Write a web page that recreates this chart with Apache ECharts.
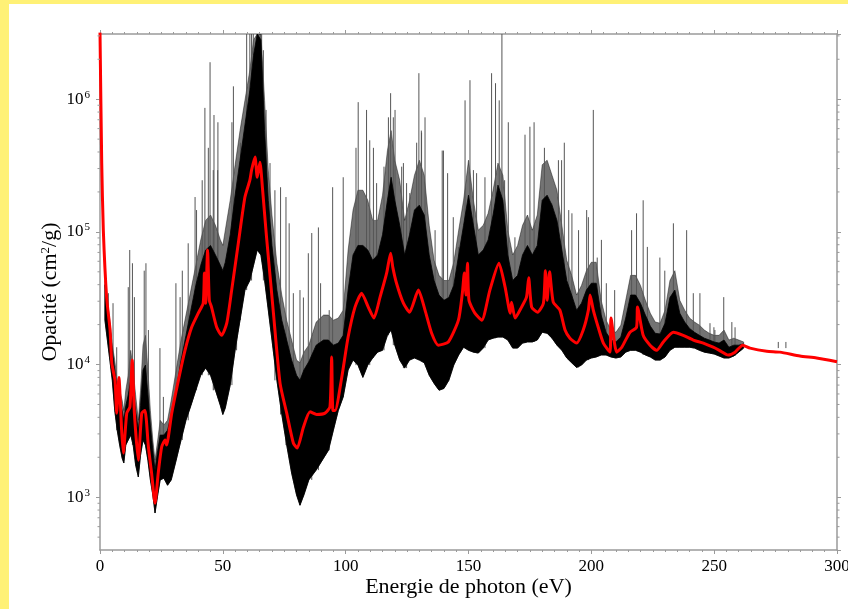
<!DOCTYPE html>
<html><head><meta charset="utf-8">
<script src="https://cdn.jsdelivr.net/npm/echarts@6/dist/echarts.min.js"></script>
<style>
html,body{margin:0;padding:0;width:848px;height:609px;background:#FFF176;overflow:hidden;}
#frame{position:absolute;left:9px;top:4px;right:0;bottom:0;background:#fff;}
#chart{position:absolute;left:0;top:0;width:848px;height:609px;}
</style></head>
<body><div id="frame"></div><div id="chart"></div>
<script>
// ---- data ----
// smoothed (red) opacity curve
const redEnergy = [0,0.7,1.35,2.7,4.1,4.8,6.1,6.8,7.7,8.8,9.5,10.9,12.2,13.1,14,15.6,17,18.3,19.7,21,22.4,23.7,25.1,26.5,27.1,29.2,31.9,34.6,37.3,40,42,42.5,43,43.8,44.5,45.4,47.5,49.5,51.6,53.6,56.3,59,61,61.7,63.1,64,65.1,66.2,67.8,70.6,73.3,76,78.7,80.3,82.8,85.5,88.2,91.6,93.6,94.3,94.8,95.7,98.4,101,103.8,106.5,109.2,111.5,114,116.7,118.3,119.2,120.7,123.5,126,129.6,132.3,135,137.7,141.8,145.9,147.5,148.3,149,149.6,150.2,152.6,155.4,158.7,162.4,164.9,167,167.5,169,171.6,173.6,174.5,175.7,178.1,180.5,181.3,182,183,184.5,187.2,189.3,191.3,194,196.7,198.8,199.5,200.8,202.8,204.9,207.6,208,210.3,212.4,215.7,218.4,218.8,221.1,223.9,226.6,229.3,233.4,237.4,241.5,245.6,249.6,252.1,255.7,258.5,261.6,264.6,271.4,276.8,284.9,291.7,300];
const redOpacity = [3.2e6,3.3e5,1.03e5,3.2e4,1.82e4,1.03e4,7.6e3,4.3e3,8.0e3,3.2e3,2.15e3,4.3e3,4.8e3,1.08e4,4.3e3,1.9e3,4.3e3,4.5e3,2.39e3,1.52e3,900,1.52e3,2.39e3,2.7e3,2.47e3,4.3e3,7.6e3,1.28e4,1.91e4,2.44e4,2.9e4,4.9e4,2.9e4,7.3e4,3.05e4,2.71e4,1.91e4,1.66e4,2.05e4,3.64e4,8.2e4,1.83e5,2.45e5,2.92e5,3.66e5,2.58e5,3.35e5,2.06e5,9.1e4,2.44e4,7.2e3,4.3e3,2.56e3,2.35e3,3.37e3,4.4e3,4.2e3,4.3e3,4.8e3,1.14e4,4.5e3,4.5e3,8.0e3,1.61e4,2.71e4,3.45e4,2.71e4,2.24e4,3.22e4,4.9e4,6.9e4,5.4e4,4.1e4,2.9e4,2.48e4,3.64e4,2.57e4,1.72e4,1.40e4,1.48e4,2.16e4,3.45e4,4.9e4,3.34e4,5.8e4,3.05e4,2.44e4,2.16e4,3.64e4,5.8e4,3.83e4,2.44e4,2.95e4,2.24e4,2.71e4,3.22e4,4.5e4,2.71e4,2.48e4,2.9e4,5.1e4,3.05e4,5.0e4,2.95e4,2.57e4,1.82e4,1.58e4,1.45e4,1.82e4,2.57e4,3.34e4,2.57e4,1.91e4,1.45e4,1.24e4,2.24e4,1.24e4,1.35e4,1.75e4,1.91e4,2.71e4,1.66e4,1.40e4,1.28e4,1.48e4,1.75e4,1.66e4,1.53e4,1.45e4,1.35e4,1.28e4,1.18e4,1.24e4,1.40e4,1.33e4,1.26e4,1.24e4,1.16e4,1.12e4,1.05e4];

// dense (black) detailed spectrum: lower edge, top of the solid core, top of the line fringe
const bandEnergy = [2,3,4,5,6,7,8,9,9.7,10.5,11.5,12.5,13.5,14.5,15.6,16.5,17.5,18.5,19.5,20.5,21.5,22.4,23.5,24.5,26,27.5,29,31,33,35,37,39,41,43,45,47,49,50,51,53,55,57,59,61,62.5,64,65.5,67,68.5,70,72,74,76,78,80,81.4,83,85,88,91,93,95,97,99,101,103,105,107,109,111,113,115,117,118.5,120,122,124,126,128,130,132,134,136,138,140,142,144,146,148,150,152,154,156,158,160,162,164,166,168,170,172,174,176,178,180,182,184,186,188,190,192,194,196,198,200,202,204,206,208,210,212,214,216,218,220,222,224,226,228,230,232,234,236,238,240,242,244,246,248,250,252,254,256,258,260,262];
const bandLow = [2.16e4,1.53e4,1.08e4,7.6e3,4.5e3,3.2e3,2.47e3,1.97e3,1.81e3,2.47e3,2.7e3,2.94e3,2.47e3,1.75e3,1.42e3,2.07e3,2.7e3,2.47e3,1.9e3,1.35e3,1.04e3,760,1.04e3,1.35e3,1.39e3,1.23e3,1.35e3,1.9e3,2.7e3,3.8e3,4.9e3,6.4e3,8.3e3,9.4e3,8.3e3,6.4e3,4.9e3,4.2e3,4.7e3,7.0e3,1.28e4,2.16e4,3.64e4,4.3e4,5.6e4,7.3e4,6.7e4,4.3e4,2.57e4,1.53e4,7.6e3,4.2e3,2.47e3,1.52e3,1.04e3,870,1.04e3,1.35e3,1.6e3,1.97e3,2.26e3,3.2e3,4.5e3,5.7e3,9.1e3,1.08e4,9.9e3,8.0e3,9.9e3,1.12e4,1.24e4,1.28e4,1.66e4,1.82e4,1.4e4,1.08e4,9.4e3,1.08e4,1.12e4,1.08e4,1.03e4,8.3e3,7.2e3,6.4e3,6.6e3,7.6e3,9.9e3,1.18e4,1.35e4,1.28e4,1.24e4,1.22e4,1.33e4,1.53e4,1.58e4,1.61e4,1.61e4,1.53e4,1.33e4,1.33e4,1.45e4,1.48e4,1.48e4,1.53e4,1.75e4,1.72e4,1.58e4,1.4e4,1.28e4,1.12e4,1.03e4,9.5e3,9.9e3,1.08e4,1.12e4,1.14e4,1.18e4,1.18e4,1.14e4,1.12e4,1.14e4,1.24e4,1.28e4,1.28e4,1.24e4,1.18e4,1.14e4,1.08e4,1.08e4,1.14e4,1.28e4,1.35e4,1.35e4,1.35e4,1.35e4,1.33e4,1.28e4,1.24e4,1.22e4,1.2e4,1.16e4,1.12e4,1.12e4,1.16e4,1.24e4,1.33e4];
const bandCore = [4.0e4,2.8e4,2.0e4,1.28e4,9.1e3,6.4e3,5.4e3,4.5e3,3.8e3,4.9e3,5.9e3,7.6e3,6.4e3,4.5e3,3.2e3,4.9e3,9.1e3,9.9e3,5.9e3,3.5e3,2.26e3,1.6e3,2.26e3,2.94e3,2.94e3,3.2e3,4.2e3,6.4e3,1.08e4,1.66e4,2.57e4,3.95e4,5.6e4,7.3e4,7.9e4,6.7e4,5.6e4,5.1e4,5.9e4,9.5e4,1.89e5,3.47e5,6.4e5,1.17e6,2.14e6,3.1e6,2.8e6,5.8e5,1.73e5,7.9e4,3.64e4,2.16e4,1.53e4,1.08e4,8.3e3,7.6e3,9.1e3,1.05e4,1.4e4,1.53e4,1.53e4,1.4e4,1.45e4,1.66e4,3.64e4,6.7e4,7.9e4,7.9e4,7.3e4,6.1e4,6.7e4,9.5e4,1.73e5,2.58e5,1.73e5,1.12e5,6.7e4,9.5e4,1.46e5,1.59e5,1.34e5,6.7e4,4.3e4,3.34e4,3.05e4,3.2e4,3.95e4,6.7e4,1.12e5,1.89e5,1.12e5,6.7e4,7.3e4,8.7e4,1.34e5,2.25e5,1.73e5,6.7e4,4.3e4,4.7e4,6.7e4,7.9e4,6.7e4,7.9e4,1.73e5,1.89e5,1.59e5,1.22e5,7.3e4,4.3e4,3.34e4,2.57e4,2.9e4,3.64e4,4.1e4,4.1e4,2.36e4,1.75e4,1.53e4,1.48e4,1.61e4,2.24e4,3.34e4,3.34e4,2.9e4,2.36e4,1.95e4,1.72e4,1.7e4,2.05e4,3.2e4,3.64e4,2.44e4,2.09e4,1.87e4,1.75e4,1.66e4,1.58e4,1.53e4,1.48e4,1.45e4,1.53e4,1.35e4,1.4e4,1.4e4,1.43e4];
const bandHigh = [4.3e4,3.05e4,2.16e4,1.4e4,1.08e4,7.6e3,6.4e3,5.4e3,4.5e3,6.4e3,8.3e3,1.28e4,9.1e3,5.9e3,3.8e3,6.4e3,1.4e4,1.66e4,9.1e3,4.5e3,2.7e3,1.9e3,2.7e3,3.8e3,3.5e3,3.8e3,5.4e3,9.1e3,1.53e4,2.36e4,3.64e4,5.6e4,8.7e4,1.22e5,1.34e5,1.12e5,8.7e4,7.9e4,1.03e5,1.73e5,3.2e5,5.8e5,9.8e5,1.66e6,2.8e6,3.1e6,3.1e6,9.8e5,2.92e5,1.34e5,5.8e4,3.34e4,2.16e4,1.53e4,1.08e4,1.03e4,1.24e4,1.4e4,2.09e4,2.36e4,2.36e4,2.16e4,2.24e4,2.57e4,7.3e4,1.46e5,2.06e5,2.06e5,1.73e5,1.22e5,1.22e5,1.89e5,4.1e5,5.8e5,3.47e5,2.45e5,1.22e5,1.73e5,2.67e5,3.47e5,2.67e5,1.12e5,6.1e4,4.7e4,4.3e4,4.3e4,5.9e4,1.03e5,1.73e5,3.47e5,1.73e5,1.03e5,1.12e5,1.38e5,2.06e5,3.3e5,2.67e5,1.03e5,6.7e4,7.9e4,1.12e5,1.34e5,1.03e5,1.34e5,3.2e5,3.47e5,2.67e5,2.06e5,1.12e5,6.1e4,4.7e4,3.34e4,3.95e4,5.1e4,5.9e4,5.9e4,3.05e4,2.16e4,1.82e4,1.75e4,1.98e4,3.05e4,4.7e4,4.7e4,3.95e4,3.05e4,2.44e4,2.09e4,2.05e4,2.57e4,4.3e4,5.1e4,3.05e4,2.57e4,2.24e4,2.09e4,1.98e4,1.82e4,1.72e4,1.66e4,1.66e4,1.82e4,1.53e4,1.58e4,1.53e4,1.48e4];

// isolated tall lines of the detailed spectrum: [energy, peak opacity]
const spikeLines = [[3.4,3.45e4],[5.3,2.9e4],[6.8,1.35e4],[11.5,3.83e4],[12.1,7.3e4],[13.2,5.8e4],[14,3.22e4],[18,5.1e4],[18.7,5.8e4],[19.7,1.82e4],[24.4,1.33e4],[25.8,5.7e3],[30.9,4.1e4],[32.6,3.22e4],[33.5,5.1e4],[35.9,8.2e4],[38.7,1.83e5],[39.3,1.46e5],[41.6,2.45e5],[42.7,8.6e5],[44.1,4.3e5],[44.8,1.9e6],[46.1,2.92e5],[46.4,7.6e5],[47.9,2.92e5],[48,6.7e5],[53.7,6.7e5],[54.3,1.25e6],[55.6,2.06e5],[57.2,4.7e5],[59.7,3.1e6],[61,3.1e6],[61.7,3.1e6],[62.4,3.1e6],[64.4,3.1e6],[65.8,3.1e6],[66.5,2.34e6],[67.6,8.3e5],[69.2,3.3e5],[71.2,2.06e5],[73.5,2.17e5],[75.7,1.83e5],[77,1.16e5],[78.7,3.45e4],[81.4,3.64e4],[82.8,3.2e4],[84.8,6.9e4],[86.2,9.8e4],[88.9,1.08e5],[89.8,4.1e4],[93.3,2.57e4],[94.7,2.17e5],[99,2.58e5],[104.2,4.3e5],[105.1,9.5e5],[108.5,8.3e5],[109.8,4.9e5],[111.3,4.3e5],[112.6,2.33e5],[115.6,3.1e5],[117.4,7.3e5],[118.3,1.11e6],[119.4,7.3e5],[120.1,8.3e5],[122.8,3.1e5],[123.5,3.3e5],[124.8,2.33e5],[126.1,1.96e5],[128.9,4.7e5],[129.8,1.57e6],[130.8,5.8e5],[130.9,5.6e5],[132.3,7.3e5],[136.4,1.03e5],[139.3,4.1e5],[139.8,4.1e5],[141.5,2.77e5],[143.8,1.29e5],[145.9,7.7e4],[148.6,9.8e5],[150.6,1.39e6],[152,2.92e5],[153.3,2.77e5],[156.7,2.58e5],[159.4,1.57e6],[161,1.32e6],[162.5,9.8e5],[163.6,3.1e6],[164.7,2.45e5],[166.2,6.7e5],[168.9,9.1e4],[173,5.4e5],[175,6.2e5],[176.7,6.7e5],[180.9,4.3e5],[183.9,1.64e5],[186.6,3.47e5],[187.9,3.47e5],[189,4.7e5],[190.8,1.46e5],[192.1,1.38e5],[194.8,1.03e5],[198.1,1.46e5],[198.8,1.29e5],[200.8,8.3e5],[202.4,6.4e4],[204.1,8.7e4],[206.1,4.1e4],[209.5,3.64e4],[216.4,1.03e5],[218.4,1.38e5],[221.1,1.73e5],[222.8,7.7e4],[227.9,6.4e4],[229.9,5.1e4],[233.4,1.16e5],[238.8,1.03e5],[241.5,3.45e4],[244.2,3.45e4],[248.3,2.05e4],[249.9,1.91e4],[250.3,1.82e4],[253.9,3.22e4],[257.2,2.09e4],[258.5,1.91e4],[276.1,1.48e4],[279.2,1.48e4],[284.3,1.33e4]];

// axes
const xMin = 0, xMax = 300, xStep = 50;
const yMin = 400, yMax = 3.1e6;
const minorMultipliers = [2,3,4,5,6,7,8,9];
const decades = [100,1000,10000,100000,1000000];

// ---- chart ----
const FONT = '"Liberation Serif","Times New Roman",serif';
const AXIS_COLOR = '#9a9a9a';
const minorTickValues = [];
decades.forEach(d => minorMultipliers.forEach(m => { const v = d*m; if (v > yMin && v < yMax) minorTickValues.push(v); }));

function nearestBandIndex(e){
  let best = 0;
  for (let i = 1; i < bandEnergy.length; i++) if (Math.abs(bandEnergy[i]-e) < Math.abs(bandEnergy[best]-e)) best = i;
  return best;
}

const axisLineCfg = {show:true, onZero:false, lineStyle:{color:AXIS_COLOR, width:1.5}};
const chart = echarts.init(document.getElementById('chart'), null, {renderer:'canvas'});

function yLabel(v){
  const e = Math.round(Math.log10(v));
  if (Math.abs(v - Math.pow(10,e)) > 1e-6*v) return '';
  return '{b|10}{sup|' + e + '}';
}

function bandPolygon(api, upper, fill){
  const top = bandEnergy.map((e,i) => api.coord([e, upper[i]]));
  const bot = bandEnergy.map((e,i) => api.coord([e, bandLow[i]])).reverse();
  return {type:'polygon', shape:{points:top.concat(bot)}, style:{fill:fill, stroke:fill, lineWidth:0.8}};
}

const option = {
  animation:false,
  backgroundColor:'transparent',
  grid:{left:100, right:11, top:34, bottom:59, containLabel:false, outerBoundsMode:'none'},
  xAxis:[
    {type:'value', min:xMin, max:xMax, interval:xStep, position:'bottom',
     axisLine:axisLineCfg, axisTick:{show:true, length:4, lineStyle:{color:AXIS_COLOR}},
     minorTick:{show:true, splitNumber:10, length:2, lineStyle:{color:AXIS_COLOR}},
     splitLine:{show:false}, minorSplitLine:{show:false},
     axisLabel:{fontFamily:FONT, fontSize:17, color:'#000', margin:8},
     name:'Energie de photon (eV)', nameLocation:'middle', nameGap:26, nameMoveOverlap:false,
     nameTextStyle:{fontFamily:FONT, fontSize:22, color:'#000'}},
    {type:'value', min:xMin, max:xMax, interval:xStep, position:'top',
     axisLine:axisLineCfg, axisTick:{show:true, length:4, lineStyle:{color:AXIS_COLOR}},
     minorTick:{show:true, splitNumber:10, length:2, lineStyle:{color:AXIS_COLOR}},
     splitLine:{show:false}, axisLabel:{show:false}}
  ],
  yAxis:[
    {type:'log', logBase:10, min:yMin, max:yMax, position:'left',
     axisLine:axisLineCfg, axisTick:{show:true, length:4, lineStyle:{color:AXIS_COLOR}},
     splitLine:{show:false},
     axisLabel:{formatter:yLabel, margin:10, showMinLabel:false, showMaxLabel:false,
       rich:{b:{fontFamily:FONT, fontSize:17, color:'#000'},
             sup:{fontFamily:FONT, fontSize:11, color:'#000', verticalAlign:'bottom', padding:[0,0,9,1]}}},
     name:'Opacité (cm{sup|2}/g)', nameLocation:'middle', nameGap:38, nameRotate:90, nameMoveOverlap:false,
     nameTextStyle:{fontFamily:FONT, fontSize:22, color:'#000',
       rich:{sup:{fontFamily:FONT, fontSize:13, color:'#000', verticalAlign:'bottom', padding:[0,0,10,0]}}}},
    {type:'log', logBase:10, min:yMin, max:yMax, position:'right',
     axisLine:axisLineCfg, axisTick:{show:true, length:4, lineStyle:{color:AXIS_COLOR}},
     splitLine:{show:false}, axisLabel:{show:false}}
  ],
  series:[
    {type:'custom', name:'minorTicks', silent:true, clip:false, z:10,
     data:minorTickValues.map(v => [xMin, v]),
     renderItem(params, api){
       const v = api.value(1);
       const pL = api.coord([xMin, v]), pR = api.coord([xMax, v]);
       return {type:'group', children:[
         {type:'line', shape:{x1:pL[0]-2.5, y1:pL[1], x2:pL[0], y2:pL[1]}, style:{stroke:AXIS_COLOR, lineWidth:1}},
         {type:'line', shape:{x1:pR[0], y1:pR[1], x2:pR[0]+2.5, y2:pR[1]}, style:{stroke:AXIS_COLOR, lineWidth:1}}
       ]};
     }},
    {type:'custom', name:'fringe', silent:true, clip:true, z:2,
     data:bandEnergy.map((e,i) => [e, bandLow[i], bandHigh[i]]),
     encode:{x:0, y:[1,2]},
     renderItem(params, api){
       if (params.dataIndex !== 0) return null;
       return bandPolygon(api, bandHigh, 'rgba(0,0,0,0.55)');
     }},
    {type:'custom', name:'spikes', silent:true, clip:true, z:3,
     data:spikeLines.map(s => [s[0], s[1]]),
     renderItem(params, api){
       const e = api.value(0), top = api.value(1);
       const base = bandLow[nearestBandIndex(e)];
       const p0 = api.coord([e, base]), p1 = api.coord([e, Math.min(top, yMax)]);
       return {type:'line', shape:{x1:p0[0], y1:p0[1], x2:p1[0], y2:p1[1]}, style:{stroke:'#555', lineWidth:1}};
     }},
    {type:'custom', name:'core', silent:true, clip:true, z:4,
     data:bandEnergy.map((e,i) => [e, bandLow[i], bandCore[i]]),
     encode:{x:0, y:[1,2]},
     renderItem(params, api){
       if (params.dataIndex !== 0) return null;
       return bandPolygon(api, bandCore, '#000');
     }},
    {type:'line', name:'moyenne', z:5, showSymbol:false, smooth:0.2, clip:true,
     data:redEnergy.map((e,i) => [e, redOpacity[i]]),
     lineStyle:{color:'#ff0000', width:3}}
  ]
};
chart.setOption(option);
</script></body></html>
